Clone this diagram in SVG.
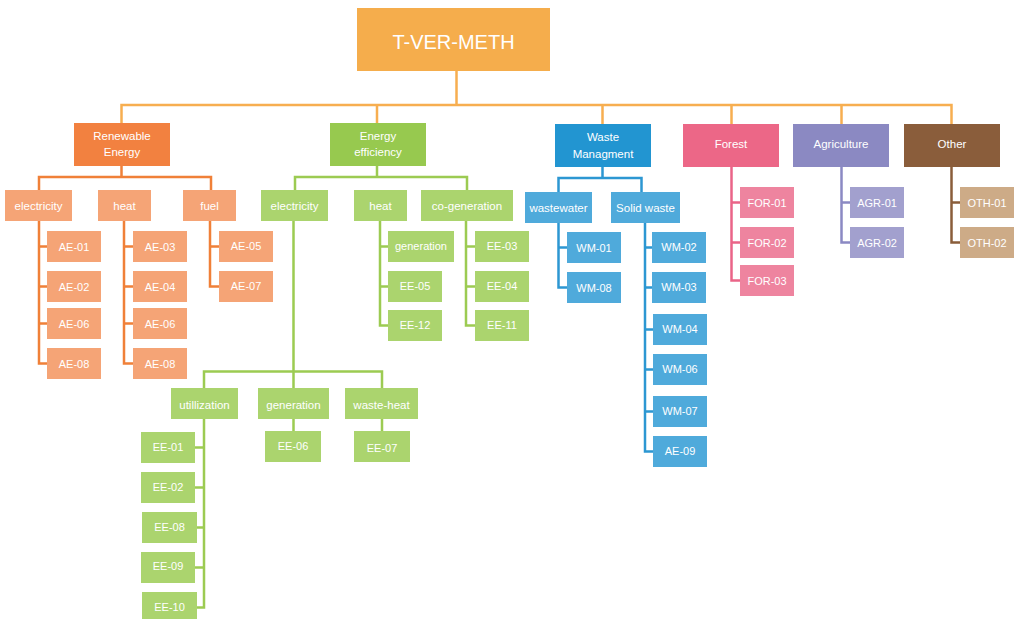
<svg xmlns="http://www.w3.org/2000/svg" width="1017" height="619" viewBox="0 0 1017 619">
<style>
text{font-family:"Liberation Sans",Arial,sans-serif;fill:#fff;text-anchor:middle;dominant-baseline:central;font-size:11px}
.t1{font-size:11.5px}
.root{fill:#F5AD4C}
.re1{fill:#F28140}.re2{fill:#F5A476}
.ee1{fill:#97C94F}.ee2{fill:#ABD46E}
.wm1{fill:#2295D1}.wm2{fill:#4FAADB}
.fo1{fill:#EC6787}.fo2{fill:#EE849F}
.ag1{fill:#8B89C2}.ag2{fill:#A2A0CE}
.ot1{fill:#8A5D3B}.ot2{fill:#CDAB87}
#connectors path{fill:none;stroke-width:2.5}
.c-root{stroke:#F7AE50}.c-re{stroke:#F08038}.c-ee{stroke:#9CCB52}.c-wm{stroke:#2C97D2}.c-fo{stroke:#EA6488}.c-ag{stroke:#8B89C3}.c-ot{stroke:#8A5D3A}
</style>
<g id="connectors">
<path class="c-root" d="M456.5 71V105M121.5 123V105H951.5V124M377 105V123M602.5 105V124M731.5 105V124M841.5 105V124"/>
<path class="c-re" d="M121.5 166V177M39 190V177H211V190M39 221V363.5H47M39 246.5H47M39 286.5H47M39 323.5H47M124 221V363.5H133M124 246.5H133M124 286.5H133M124 323.5H133M210 221V286.5H219M210 246.5H219"/>
<path class="c-ee" d="M377 166V177M295 190V177H467V190M293.5 221V388M204 388V371.5H382V388M380 221V325.5H388M380 246.5H388M380 286.5H388M466 221V325.5H475M466 246.5H475M466 286.5H475M204 419V607.5H197M204 447.5H195M204 487.5H195M204 527.5H197M204 567.5H195M293.5 419V431M382 419V431"/>
<path class="c-wm" d="M602.5 167V178M558.5 192V178H641.5V192M558.5 223V287.5H567M558.5 247.5H567M645 223V451.5H653M645 247.5H652M645 287.5H652M645 329.5H653M645 369.5H653M645 411.5H653"/>
<path class="c-fo" d="M731.5 167V280.5H740M731.5 202.5H740M731.5 242.5H740"/>
<path class="c-ag" d="M841.5 167V242.5H850M841.5 202.5H850"/>
<path class="c-ot" d="M951.5 167V242.5H960M951.5 202.5H960"/>
</g>
<g id="n-root"><rect class="root" x="357" y="8" width="193" height="63"/><text x="453.5" y="42" style="font-size:20px">T-VER-METH</text></g>
<g id="n-re"><rect class="re1" x="74" y="123" width="96" height="43"/><text class="t1" x="122" y="136">Renewable</text><text class="t1" x="122" y="152">Energy</text></g>
<g id="n-ee"><rect class="ee1" x="330" y="123" width="96" height="43"/><text class="t1" x="378" y="136">Energy</text><text class="t1" x="378" y="152">efficiency</text></g>
<g id="n-wm"><rect class="wm1" x="555" y="124" width="96" height="43"/><text class="t1" x="603" y="137">Waste</text><text class="t1" x="603" y="153.5">Managment</text></g>
<g id="n-fo"><rect class="fo1" x="683" y="124" width="96" height="43"/><text class="t1" x="731" y="143.5">Forest</text></g>
<g id="n-ag"><rect class="ag1" x="793" y="124" width="96" height="43"/><text class="t1" x="841" y="143.5">Agriculture</text></g>
<g id="n-ot"><rect class="ot1" x="904" y="124" width="96" height="43"/><text class="t1" x="952" y="143.5">Other</text></g>

<g id="n-re-elec"><rect class="re2" x="5" y="190" width="67" height="31"/><text class="t1" x="38.5" y="206">electricity</text></g>
<g id="n-re-heat"><rect class="re2" x="98" y="190" width="53" height="31"/><text class="t1" x="124.5" y="206">heat</text></g>
<g id="n-re-fuel"><rect class="re2" x="183" y="190" width="53" height="31"/><text class="t1" x="209.5" y="206">fuel</text></g>
<g id="n-ae01"><rect class="re2" x="47" y="231" width="54" height="31"/><text x="74" y="247">AE-01</text></g>
<g id="n-ae02"><rect class="re2" x="47" y="271" width="54" height="31"/><text x="74" y="287">AE-02</text></g>
<g id="n-ae06a"><rect class="re2" x="47" y="308" width="54" height="31"/><text x="74" y="324">AE-06</text></g>
<g id="n-ae08a"><rect class="re2" x="47" y="348" width="54" height="31"/><text x="74" y="364">AE-08</text></g>
<g id="n-ae03"><rect class="re2" x="133" y="231" width="54" height="31"/><text x="160" y="247">AE-03</text></g>
<g id="n-ae04"><rect class="re2" x="133" y="271" width="54" height="31"/><text x="160" y="287">AE-04</text></g>
<g id="n-ae06b"><rect class="re2" x="133" y="308" width="54" height="31"/><text x="160" y="324">AE-06</text></g>
<g id="n-ae08b"><rect class="re2" x="133" y="348" width="54" height="31"/><text x="160" y="364">AE-08</text></g>
<g id="n-ae05"><rect class="re2" x="219" y="231" width="54" height="31"/><text x="246" y="246">AE-05</text></g>
<g id="n-ae07"><rect class="re2" x="219" y="271" width="54" height="31"/><text x="246" y="286">AE-07</text></g>

<g id="n-ee-elec"><rect class="ee2" x="261" y="190" width="67" height="31"/><text class="t1" x="294.5" y="206">electricity</text></g>
<g id="n-ee-heat"><rect class="ee2" x="354" y="190" width="53" height="31"/><text class="t1" x="380.5" y="206">heat</text></g>
<g id="n-ee-cogen"><rect class="ee2" x="421" y="190" width="92" height="31"/><text class="t1" x="467" y="206">co-generation</text></g>
<g id="n-ee-hgen"><rect class="ee2" x="388" y="231" width="66" height="31"/><text x="421" y="246">generation</text></g>
<g id="n-ee05"><rect class="ee2" x="388" y="271" width="54" height="31"/><text x="415" y="285.5">EE-05</text></g>
<g id="n-ee12"><rect class="ee2" x="388" y="310" width="54" height="31"/><text x="415" y="325">EE-12</text></g>
<g id="n-ee03"><rect class="ee2" x="475" y="231" width="54" height="31"/><text x="502" y="246">EE-03</text></g>
<g id="n-ee04"><rect class="ee2" x="475" y="271" width="54" height="31"/><text x="502" y="286">EE-04</text></g>
<g id="n-ee11"><rect class="ee2" x="475" y="310" width="54" height="31"/><text x="502" y="325">EE-11</text></g>
<g id="n-ee-util"><rect class="ee2" x="171" y="388" width="67" height="31"/><text class="t1" x="204.5" y="405">utillization</text></g>
<g id="n-ee-gen"><rect class="ee2" x="258" y="388" width="71" height="31"/><text class="t1" x="293.5" y="405">generation</text></g>
<g id="n-ee-wh"><rect class="ee2" x="345" y="388" width="73" height="31"/><text class="t1" x="381.5" y="405">waste-heat</text></g>
<g id="n-ee01"><rect class="ee2" x="141" y="432" width="54" height="31"/><text x="168" y="447">EE-01</text></g>
<g id="n-ee02"><rect class="ee2" x="141" y="472" width="54" height="31"/><text x="168" y="487">EE-02</text></g>
<g id="n-ee08"><rect class="ee2" x="142" y="512" width="55" height="31"/><text x="169.5" y="527">EE-08</text></g>
<g id="n-ee09"><rect class="ee2" x="141" y="552" width="54" height="31"/><text x="168" y="566">EE-09</text></g>
<g id="n-ee10"><rect class="ee2" x="142" y="592" width="55" height="31"/><text x="169.5" y="607">EE-10</text></g>
<g id="n-ee06"><rect class="ee2" x="265" y="431" width="56" height="31"/><text x="293" y="446">EE-06</text></g>
<g id="n-ee07"><rect class="ee2" x="354" y="431" width="56" height="31"/><text x="382" y="447.5">EE-07</text></g>

<g id="n-wm-ww"><rect class="wm2" x="525" y="192" width="67" height="31"/><text class="t1" x="558.5" y="207.5">wastewater</text></g>
<g id="n-wm-sw"><rect class="wm2" x="611" y="192" width="69" height="31"/><text class="t1" x="645.5" y="207.5">Solid waste</text></g>
<g id="n-wm01"><rect class="wm2" x="567" y="232" width="54" height="31"/><text x="594" y="248">WM-01</text></g>
<g id="n-wm08"><rect class="wm2" x="567" y="272" width="54" height="31"/><text x="594" y="288">WM-08</text></g>
<g id="n-wm02"><rect class="wm2" x="652" y="232" width="54" height="31"/><text x="679" y="247">WM-02</text></g>
<g id="n-wm03"><rect class="wm2" x="652" y="272" width="54" height="31"/><text x="679" y="287">WM-03</text></g>
<g id="n-wm04"><rect class="wm2" x="653" y="314" width="54" height="31"/><text x="680" y="329">WM-04</text></g>
<g id="n-wm06"><rect class="wm2" x="653" y="354" width="54" height="31"/><text x="680" y="369">WM-06</text></g>
<g id="n-wm07"><rect class="wm2" x="653" y="396" width="54" height="31"/><text x="680" y="411">WM-07</text></g>
<g id="n-ae09"><rect class="wm2" x="653" y="436" width="54" height="31"/><text x="680" y="451">AE-09</text></g>

<g id="n-for01"><rect class="fo2" x="740" y="187" width="54" height="31"/><text x="767" y="203">FOR-01</text></g>
<g id="n-for02"><rect class="fo2" x="740" y="227" width="54" height="31"/><text x="767" y="243">FOR-02</text></g>
<g id="n-for03"><rect class="fo2" x="740" y="265" width="54" height="31"/><text x="767" y="281">FOR-03</text></g>
<g id="n-agr01"><rect class="ag2" x="850" y="187" width="54" height="31"/><text x="877" y="203">AGR-01</text></g>
<g id="n-agr02"><rect class="ag2" x="850" y="227" width="54" height="31"/><text x="877" y="243">AGR-02</text></g>
<g id="n-oth01"><rect class="ot2" x="960" y="187" width="54" height="31"/><text x="987" y="203">OTH-01</text></g>
<g id="n-oth02"><rect class="ot2" x="960" y="227" width="54" height="31"/><text x="987" y="243">OTH-02</text></g>
</svg>
